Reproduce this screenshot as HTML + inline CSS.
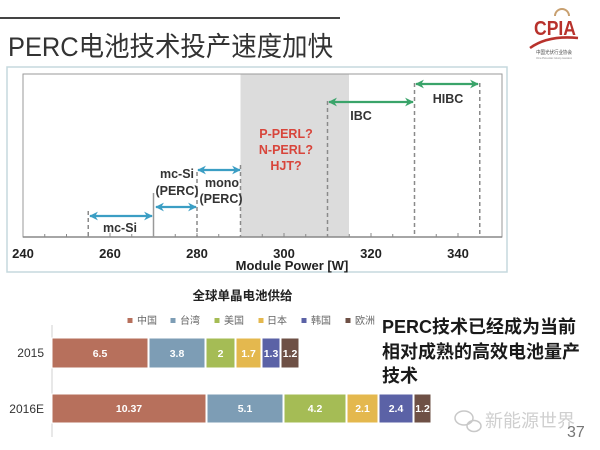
<!DOCTYPE html>
<html>
<head>
<meta charset="utf-8">
<style>
  html,body{margin:0;padding:0;background:#fff;}
  body{width:600px;height:450px;overflow:hidden;}
  svg{display:block;}
  .lat{font-family:"Liberation Sans","Noto Sans CJK SC",sans-serif;}
</style>
</head>
<body>
<svg width="600" height="450" viewBox="0 0 600 450" xmlns="http://www.w3.org/2000/svg" class="lat">
  <defs>
    <marker id="ab" viewBox="0 0 10 10" refX="9" refY="5" markerWidth="4" markerHeight="4" orient="auto-start-reverse">
      <path d="M0,0 L10,5 L0,10 L3,5 Z" fill="#3b9ec4"/>
    </marker>
    <marker id="ag" viewBox="0 0 10 10" refX="9" refY="5" markerWidth="4" markerHeight="4" orient="auto-start-reverse">
      <path d="M0,0 L10,5 L0,10 L3,5 Z" fill="#3aa46a"/>
    </marker>
  </defs>

  <!-- header -->
  <line x1="0" y1="18" x2="340" y2="18" stroke="#444" stroke-width="2"/>
  <text x="8" y="56" font-size="27" fill="#333" font-family="Liberation Sans, Noto Sans CJK SC, sans-serif" textLength="325" lengthAdjust="spacingAndGlyphs">PERC电池技术投产速度加快</text>

  <!-- CPIA logo -->
  <path d="M555,16 A7,7 0 0 1 569,16" fill="none" stroke="#c8a070" stroke-width="2"/>
  <text x="534" y="35" font-size="20" font-weight="bold" fill="#b8322c" textLength="42" lengthAdjust="spacingAndGlyphs">CPIA</text>
  <path d="M530,48 Q548,35 578,38" fill="none" stroke="#b8322c" stroke-width="2.5"/>
  <text x="536" y="54" font-size="5" fill="#444" textLength="36" lengthAdjust="spacingAndGlyphs">中国光伏行业协会</text>
  <text x="536" y="59" font-size="3" fill="#888" textLength="36" lengthAdjust="spacingAndGlyphs">China Photovoltaic Industry Association</text>

  <!-- outer frame -->
  <rect x="7" y="67" width="500" height="205" fill="#fff" stroke="#c5d9de" stroke-width="1.5"/>
  <!-- shaded region -->
  <rect x="240.5" y="74" width="108.5" height="163" fill="#dcdcdc"/>
  <!-- plot rect -->
  <rect x="23" y="74" width="479" height="163" fill="none" stroke="#9a9a9a" stroke-width="1"/>
  <line x1="23" y1="237" x2="502" y2="237" stroke="#888" stroke-width="1.5"/>

  <!-- minor ticks -->
  <g stroke="#888" stroke-width="1">
    <line x1="44.75" y1="237" x2="44.75" y2="234"/>
    <line x1="66.5" y1="237" x2="66.5" y2="234"/>
    <line x1="88.25" y1="237" x2="88.25" y2="234"/>
    <line x1="110" y1="237" x2="110" y2="233"/>
    <line x1="131.75" y1="237" x2="131.75" y2="234"/>
    <line x1="153.5" y1="237" x2="153.5" y2="234"/>
    <line x1="175.25" y1="237" x2="175.25" y2="234"/>
    <line x1="197" y1="237" x2="197" y2="233"/>
    <line x1="218.75" y1="237" x2="218.75" y2="234"/>
    <line x1="262.25" y1="237" x2="262.25" y2="234"/>
    <line x1="284" y1="237" x2="284" y2="233"/>
    <line x1="305.75" y1="237" x2="305.75" y2="234"/>
    <line x1="349.25" y1="237" x2="349.25" y2="234"/>
    <line x1="371" y1="237" x2="371" y2="233"/>
    <line x1="392.75" y1="237" x2="392.75" y2="234"/>
    <line x1="436.25" y1="237" x2="436.25" y2="234"/>
    <line x1="458" y1="237" x2="458" y2="233"/>
  </g>

  <!-- vertical markers -->
  <g stroke="#8a8a8a" stroke-width="1.5" stroke-dasharray="4,3" fill="none">
    <line x1="88.25" y1="211" x2="88.25" y2="237"/>
    <line x1="197" y1="172" x2="197" y2="237"/>
    <line x1="240.5" y1="165" x2="240.5" y2="237"/>
    <line x1="327.5" y1="101" x2="327.5" y2="237"/>
    <line x1="414.5" y1="83" x2="414.5" y2="237"/>
    <line x1="479.75" y1="83" x2="479.75" y2="237"/>
  </g>
  <line x1="153.5" y1="193" x2="153.5" y2="237" stroke="#999" stroke-width="1.5"/>

  <!-- arrows -->
  <g stroke="#3b9ec4" stroke-width="2.2" fill="none">
    <line x1="90" y1="216" x2="152" y2="216" marker-start="url(#ab)" marker-end="url(#ab)"/>
    <line x1="156" y1="207" x2="196" y2="207" marker-start="url(#ab)" marker-end="url(#ab)"/>
    <line x1="198" y1="170" x2="240" y2="170" marker-start="url(#ab)" marker-end="url(#ab)"/>
  </g>
  <g stroke="#3aa46a" stroke-width="2.2" fill="none">
    <line x1="329" y1="102" x2="413" y2="102" marker-start="url(#ag)" marker-end="url(#ag)"/>
    <line x1="416" y1="84" x2="478" y2="84" marker-start="url(#ag)" marker-end="url(#ag)"/>
  </g>

  <!-- labels -->
  <g font-size="12.5" font-weight="bold" fill="#333" text-anchor="middle">
    <text x="120" y="232">mc-Si</text>
    <text x="177" y="178">mc-Si</text>
    <text x="177" y="195">(PERC)</text>
    <text x="222" y="187">mono</text>
    <text x="221" y="203">(PERC)</text>
    <text x="361" y="120">IBC</text>
    <text x="448" y="103">HIBC</text>
  </g>
  <g font-size="12.5" font-weight="bold" fill="#d8453b" text-anchor="middle">
    <text x="286" y="138">P-PERL?</text>
    <text x="286" y="154">N-PERL?</text>
    <text x="286" y="170">HJT?</text>
  </g>

  <!-- tick labels -->
  <g font-size="13" font-weight="bold" fill="#222" text-anchor="middle">
    <text x="23" y="258">240</text>
    <text x="110" y="258">260</text>
    <text x="197" y="258">280</text>
    <text x="284" y="258">300</text>
    <text x="371" y="258">320</text>
    <text x="458" y="258">340</text>
    <text x="292" y="270">Module Power [W]</text>
  </g>

  <!-- bar chart -->
  <text x="242.5" y="300" font-size="12.5" font-weight="bold" fill="#222" text-anchor="middle">全球单晶电池供给</text>
  <g font-size="10" fill="#666">
    <rect x="127.5" y="318" width="5" height="5" fill="#b7705c"/><text x="137" y="324">中国</text>
    <rect x="170.5" y="318" width="5" height="5" fill="#7d9db5"/><text x="180" y="324">台湾</text>
    <rect x="214.5" y="318" width="5" height="5" fill="#a5bc55"/><text x="224" y="324">美国</text>
    <rect x="258.5" y="318" width="5" height="5" fill="#e4b84e"/><text x="267" y="324">日本</text>
    <rect x="301.5" y="318" width="5" height="5" fill="#5b62a6"/><text x="311" y="324">韩国</text>
    <rect x="345.5" y="318" width="5" height="5" fill="#6e5045"/><text x="355" y="324">欧洲</text>
  </g>
  <line x1="52" y1="325" x2="52" y2="437" stroke="#d0d0d0" stroke-width="1"/>
  <g font-size="12" fill="#333" text-anchor="end">
    <text x="44" y="357">2015</text>
    <text x="44" y="413">2016E</text>
  </g>
  <g stroke="#fff" stroke-width="1">
    <rect x="52" y="338" width="96" height="30" fill="#b7705c"/>
    <rect x="149" y="338" width="56" height="30" fill="#7d9db5"/>
    <rect x="206" y="338" width="29" height="30" fill="#a5bc55"/>
    <rect x="236" y="338" width="25" height="30" fill="#e4b84e"/>
    <rect x="262" y="338" width="18" height="30" fill="#5b62a6"/>
    <rect x="281" y="338" width="18" height="30" fill="#6e5045"/>
    <rect x="52" y="394" width="154" height="29" fill="#b7705c"/>
    <rect x="207" y="394" width="76" height="29" fill="#7d9db5"/>
    <rect x="284" y="394" width="62" height="29" fill="#a5bc55"/>
    <rect x="347" y="394" width="31" height="29" fill="#e4b84e"/>
    <rect x="379" y="394" width="34" height="29" fill="#5b62a6"/>
    <rect x="414" y="394" width="17" height="29" fill="#6e5045"/>
  </g>
  <g font-size="10.5" font-weight="bold" fill="#fff" text-anchor="middle">
    <text x="100" y="357">6.5</text>
    <text x="177" y="357">3.8</text>
    <text x="220.5" y="357">2</text>
    <text x="248.5" y="357">1.7</text>
    <text x="271" y="357">1.3</text>
    <text x="290" y="357">1.2</text>
    <text x="129" y="412">10.37</text>
    <text x="245" y="412">5.1</text>
    <text x="315" y="412">4.2</text>
    <text x="362.5" y="412">2.1</text>
    <text x="396" y="412">2.4</text>
    <text x="422.5" y="412">1.2</text>
  </g>

  <!-- right text -->
  <g font-size="18" font-weight="bold" fill="#1a1a1a" font-family="Liberation Sans, Noto Sans CJK SC, sans-serif">
    <text x="382" y="333">PERC技术已经成为当前</text>
    <text x="382" y="358">相对成熟的高效电池量产</text>
    <text x="382" y="382">技术</text>
  </g>

  <!-- watermark -->
  <g fill="none" stroke="#c8c8c8" stroke-width="1.5">
    <ellipse cx="464" cy="418" rx="9" ry="7"/>
    <ellipse cx="474" cy="426" rx="7" ry="5.5"/>
  </g>
  <text x="485" y="427" font-size="18" fill="#cfcfcf" font-family="Liberation Sans, Noto Sans CJK SC, sans-serif">新能源世界</text>
  <text x="567" y="437" font-size="16" fill="#777">37</text>
</svg>
</body>
</html>
